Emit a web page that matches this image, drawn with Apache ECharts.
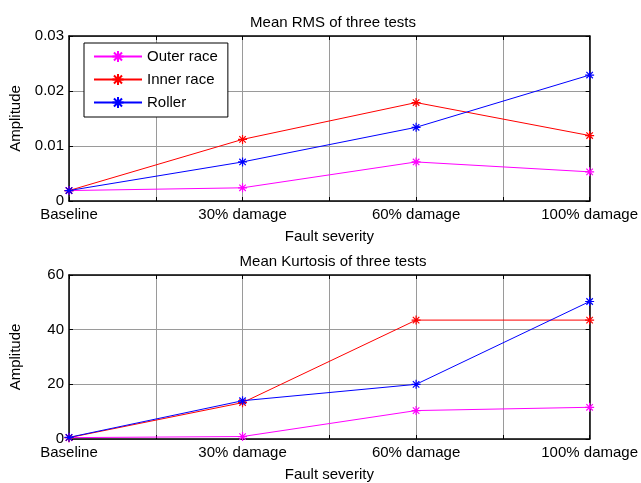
<!DOCTYPE html>
<html>
<head>
<meta charset="utf-8">
<script src="https://cdn.jsdelivr.net/npm/echarts@6/dist/echarts.min.js"></script>
<style>
  html, body { margin: 0; padding: 0; background: #fff; }
  #chart { width: 641px; height: 483px; }
</style>
</head>
<body>
<div id="chart"></div>
<script>
// Fault severity levels (x positions 1..4)
const severities = ['Baseline', '30% damage', '60% damage', '100% damage'];
const seriesNames = ['Outer race', 'Inner race', 'Roller'];
const seriesColors = ['#ff00ff', '#ff0000', '#0000ff'];

// Mean RMS of three tests
const rmsOuter = [0.0019, 0.0024, 0.0071, 0.0053];
const rmsInner = [0.0019, 0.0112, 0.0179, 0.0119];
const rmsRoller = [0.0019, 0.0071, 0.0134, 0.0229];

// Mean kurtosis of three tests
const kurtOuter = [0.5, 0.9, 10.4, 11.6];
const kurtInner = [0.5, 13.3, 43.5, 43.5];
const kurtRoller = [0.6, 14.0, 20.0, 50.3];

const FONT = '"Liberation Sans", Arial, sans-serif';
const FS = 15;

// asterisk marker
const STAR = 'path://M0,-1L0,1M-1,0L1,0M-0.72,-0.72L0.72,0.72M-0.72,0.72L0.72,-0.72';

function pts(arr) {
  return arr.map((v, i) => [i + 1, v]);
}

const grids = [
  { left: 69, right: 49, top: 36, height: 165 },
  { left: 69, right: 49, top: 275, height: 165 }
];

function xAxes(gi) {
  return [
    {
      type: 'value', gridIndex: gi, min: 1, max: 4, interval: 0.5, position: 'bottom',
      axisLine: { show: true, onZero: false, lineStyle: { color: '#000', width: 1.5 } },
      axisTick: { show: true, inside: true, length: 4, lineStyle: { color: '#000' } },
      axisLabel: {
        color: '#000', fontFamily: FONT, fontSize: FS, margin: 6,
        formatter: v => (Number.isInteger(v) ? severities[v - 1] : '')
      },
      splitLine: { show: true, lineStyle: { color: '#9a9a9a', width: 1 } },
      name: 'Fault severity', nameLocation: 'middle', nameGap: 28,
      nameTextStyle: { color: '#000', fontFamily: FONT, fontSize: FS }
    },
    {
      type: 'value', gridIndex: gi, min: 1, max: 4, interval: 0.5, position: 'top',
      axisLine: { show: true, onZero: false, lineStyle: { color: '#000', width: 1.5 } },
      axisTick: { show: true, inside: true, length: 4, lineStyle: { color: '#000' } },
      axisLabel: { show: false }, splitLine: { show: false }
    }
  ];
}

function yAxes(gi, max, interval) {
  return [
    {
      type: 'value', gridIndex: gi, min: 0, max: max, interval: interval, position: 'left',
      axisLine: { show: true, onZero: false, lineStyle: { color: '#000', width: 1.5 } },
      axisTick: { show: true, inside: true, length: 4, lineStyle: { color: '#000' } },
      axisLabel: { color: '#000', fontFamily: FONT, fontSize: FS, margin: 5 },
      splitLine: { show: true, lineStyle: { color: '#9a9a9a', width: 1 } },
      name: 'Amplitude', nameLocation: 'middle', nameGap: 46, nameRotate: 90,
      nameTextStyle: { color: '#000', fontFamily: FONT, fontSize: FS }
    },
    {
      type: 'value', gridIndex: gi, min: 0, max: max, interval: interval, position: 'right',
      axisLine: { show: true, onZero: false, lineStyle: { color: '#000', width: 1.5 } },
      axisTick: { show: true, inside: true, length: 4, lineStyle: { color: '#000' } },
      axisLabel: { show: false }, splitLine: { show: false }
    }
  ];
}

function lineSeries(name, color, data, gi) {
  return {
    type: 'line', name: name, xAxisIndex: gi * 2, yAxisIndex: gi * 2,
    data: pts(data),
    symbol: STAR, symbolSize: 9, showAllSymbol: true,
    lineStyle: { color: color, width: 1 },
    itemStyle: { color: color, borderColor: color, borderWidth: 1.2 },
    emphasis: { disabled: true },
    animation: false, z: 3
  };
}

const chart = echarts.init(document.getElementById('chart'), null, { renderer: 'canvas' });
chart.setOption({
  backgroundColor: '#fff',
  animation: false,
  title: [
    { text: 'Mean RMS of three tests', left: 328, top: 10, textAlign: 'center',
      textStyle: { color: '#000', fontFamily: FONT, fontSize: FS, fontWeight: 'normal' } },
    { text: 'Mean Kurtosis of three tests', left: 328, top: 249, textAlign: 'center',
      textStyle: { color: '#000', fontFamily: FONT, fontSize: FS, fontWeight: 'normal' } }
  ],
  legend: {
    data: seriesNames, orient: 'vertical', left: 84, top: 43,
    backgroundColor: '#fff', borderColor: '#000', borderWidth: 1,
    padding: [6, 10, 7, 9], itemGap: 8, itemWidth: 48, itemHeight: 14,
    textStyle: { color: '#000', fontFamily: FONT, fontSize: FS },
    selectedMode: false
  },
  grid: grids,
  xAxis: [...xAxes(0), ...xAxes(1)],
  yAxis: [...yAxes(0, 0.03, 0.01), ...yAxes(1, 60, 20)],
  series: [
    lineSeries(seriesNames[0], seriesColors[0], rmsOuter, 0),
    lineSeries(seriesNames[1], seriesColors[1], rmsInner, 0),
    lineSeries(seriesNames[2], seriesColors[2], rmsRoller, 0),
    lineSeries(seriesNames[0], seriesColors[0], kurtOuter, 1),
    lineSeries(seriesNames[1], seriesColors[1], kurtInner, 1),
    lineSeries(seriesNames[2], seriesColors[2], kurtRoller, 1)
  ]
});
</script>
</body>
</html>
